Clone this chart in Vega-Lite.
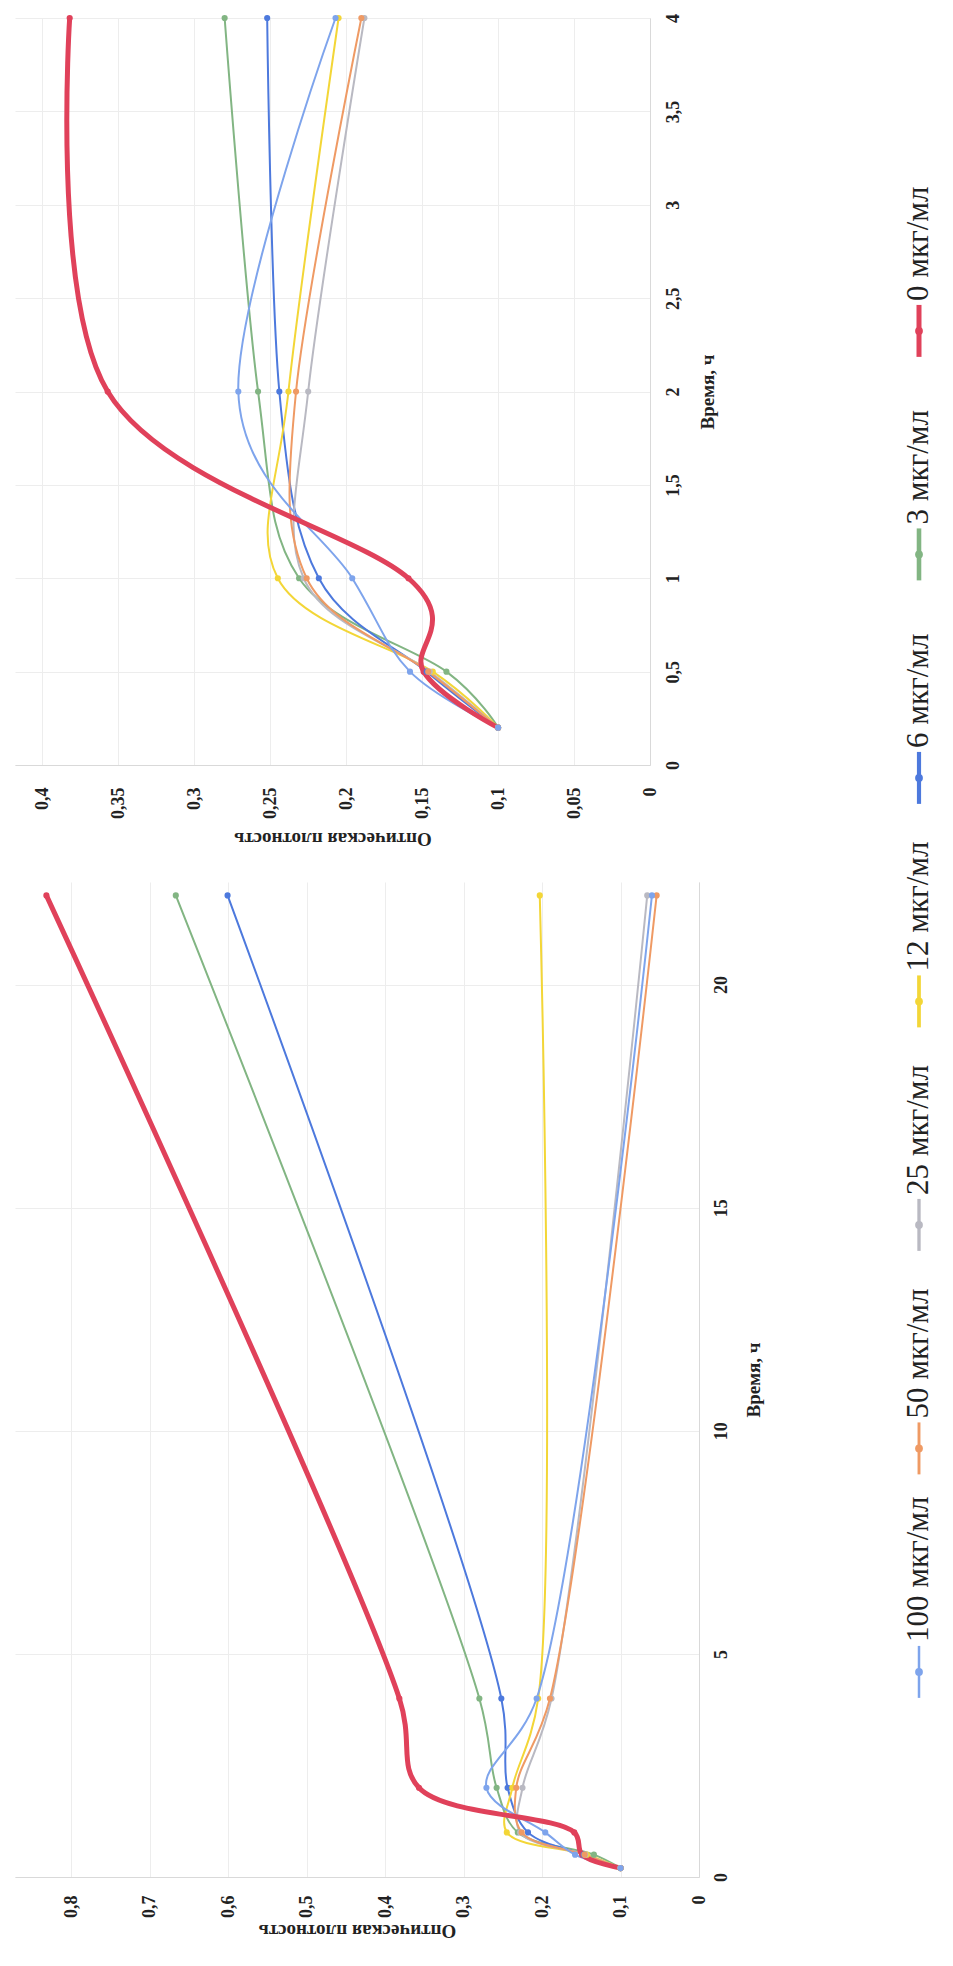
{
  "$schema": "https://vega.github.io/schema/vega-lite/v6.json",
  "padding": {"left": 15, "top": 8, "right": 0, "bottom": 0},
  "background": "white",
  "config": {
    "view": {"stroke": null},
    "font": "Liberation Serif",
    "axis": {
      "ticks": false,
      "grid": true,
      "gridColor": "#ededed",
      "domainColor": "#d9d9d9",
      "labelFont": "Liberation Serif",
      "labelFontWeight": "bold",
      "labelFontSize": 18,
      "labelColor": "#222222",
      "labelOverlap": false,
      "labelFlush": false,
      "titleFont": "Liberation Serif",
      "titleFontWeight": "bold",
      "titleFontSize": 19,
      "titleColor": "#222222"
    }
  },
  "datasets": {
    "od": [
      {"s": "0 мкг/мл", "t": 0.2, "od": 0.1},
      {"s": "0 мкг/мл", "t": 0.5, "od": 0.149},
      {"s": "0 мкг/мл", "t": 1, "od": 0.159},
      {"s": "0 мкг/мл", "t": 2, "od": 0.357},
      {"s": "0 мкг/мл", "t": 4, "od": 0.382},
      {"s": "0 мкг/мл", "t": 22, "od": 0.832},
      {"s": "3 мкг/мл", "t": 0.2, "od": 0.1},
      {"s": "3 мкг/мл", "t": 0.5, "od": 0.134},
      {"s": "3 мкг/мл", "t": 1, "od": 0.231},
      {"s": "3 мкг/мл", "t": 2, "od": 0.258},
      {"s": "3 мкг/мл", "t": 4, "od": 0.28},
      {"s": "3 мкг/мл", "t": 22, "od": 0.667},
      {"s": "6 мкг/мл", "t": 0.2, "od": 0.1},
      {"s": "6 мкг/мл", "t": 0.5, "od": 0.147},
      {"s": "6 мкг/мл", "t": 1, "od": 0.218},
      {"s": "6 мкг/мл", "t": 2, "od": 0.244},
      {"s": "6 мкг/мл", "t": 4, "od": 0.252},
      {"s": "6 мкг/мл", "t": 22, "od": 0.601},
      {"s": "12 мкг/мл", "t": 0.2, "od": 0.1},
      {"s": "12 мкг/мл", "t": 0.5, "od": 0.143},
      {"s": "12 мкг/мл", "t": 1, "od": 0.245},
      {"s": "12 мкг/мл", "t": 2, "od": 0.238},
      {"s": "12 мкг/мл", "t": 4, "od": 0.205},
      {"s": "12 мкг/мл", "t": 22, "od": 0.203},
      {"s": "25 мкг/мл", "t": 0.2, "od": 0.1},
      {"s": "25 мкг/мл", "t": 0.5, "od": 0.145},
      {"s": "25 мкг/мл", "t": 1, "od": 0.228},
      {"s": "25 мкг/мл", "t": 2, "od": 0.225},
      {"s": "25 мкг/мл", "t": 4, "od": 0.188},
      {"s": "25 мкг/мл", "t": 22, "od": 0.066},
      {"s": "50 мкг/мл", "t": 0.2, "od": 0.1},
      {"s": "50 мкг/мл", "t": 0.5, "od": 0.146},
      {"s": "50 мкг/мл", "t": 1, "od": 0.226},
      {"s": "50 мкг/мл", "t": 2, "od": 0.233},
      {"s": "50 мкг/мл", "t": 4, "od": 0.19},
      {"s": "50 мкг/мл", "t": 22, "od": 0.054},
      {"s": "100 мкг/мл", "t": 0.2, "od": 0.1},
      {"s": "100 мкг/мл", "t": 0.5, "od": 0.158},
      {"s": "100 мкг/мл", "t": 1, "od": 0.196},
      {"s": "100 мкг/мл", "t": 2, "od": 0.271},
      {"s": "100 мкг/мл", "t": 4, "od": 0.207},
      {"s": "100 мкг/мл", "t": 22, "od": 0.06}
    ],
    "leg": [
      {"s": "0 мкг/мл"},
      {"s": "3 мкг/мл"},
      {"s": "6 мкг/мл"},
      {"s": "12 мкг/мл"},
      {"s": "25 мкг/мл"},
      {"s": "50 мкг/мл"},
      {"s": "100 мкг/мл"}
    ]
  },
  "spacing": 136,
  "hconcat": [
    {
      "spacing": 34,
      "vconcat": [
        {
          "width": 635,
          "height": 747,
          "data": {"name": "od"},
          "transform": [{"filter": "datum.t <= 4"}],
          "encoding": {
            "x": {
              "field": "od", "type": "quantitative",
              "scale": {"domain": [0, 0.418], "reverse": true, "nice": false},
              "axis": {
                "values": [0, 0.05, 0.1, 0.15, 0.2, 0.25, 0.3, 0.35, 0.4],
                "labelExpr": "replace(format(datum.value, '.2~f'), '.', ',')",
                "labelAngle": 270, "labelAlign": "right", "labelBaseline": "middle",
                "labelPadding": 22,
                "title": "Оптическая плотность", "titleAngle": 180, "titleBaseline": "bottom",
                "titlePadding": 10
              }
            },
            "y": {
              "field": "t", "type": "quantitative",
              "scale": {"domain": [0, 4], "nice": false},
              "axis": {
                "orient": "right",
                "values": [0, 0.5, 1, 1.5, 2, 2.5, 3, 3.5, 4],
                "labelExpr": "replace(format(datum.value, '.1~f'), '.', ',')",
                "labelAngle": 270, "labelAlign": "center", "labelBaseline": "top",
                "labelPadding": 14,
                "title": "Время, ч", "titleAngle": 270, "titleBaseline": "top",
                "titlePadding": 16
              }
            },
            "color": {
              "field": "s", "type": "nominal",
              "scale": {
                "domain": ["0 мкг/мл", "3 мкг/мл", "6 мкг/мл", "12 мкг/мл", "25 мкг/мл", "50 мкг/мл", "100 мкг/мл"],
                "range": ["#e0415a", "#82b583", "#4d79dd", "#f3d637", "#b9b9c2", "#ef9a64", "#7ea4ec"]
              },
              "legend": null
            }
          },
          "layer": [
            {
              "transform": [{"filter": "datum.s != '0 мкг/мл'"}],
              "mark": {"type": "line", "interpolate": "cardinal", "tension": 0, "strokeWidth": 2},
              "encoding": {"order": {"field": "t", "type": "quantitative"}}
            },
            {
              "transform": [{"filter": "datum.s == '0 мкг/мл'"}],
              "mark": {"type": "line", "interpolate": "cardinal", "tension": 0, "strokeWidth": 5},
              "encoding": {"order": {"field": "t", "type": "quantitative"}}
            },
            {
              "mark": {"type": "circle", "size": 38, "opacity": 1}
            }
          ]
        },
        {
          "width": 684,
          "height": 995,
          "data": {"name": "od"},
          "encoding": {
            "x": {
              "field": "od", "type": "quantitative",
              "scale": {"domain": [0, 0.872], "reverse": true, "nice": false},
              "axis": {
                "values": [0, 0.1, 0.2, 0.3, 0.4, 0.5, 0.6, 0.7, 0.8],
                "labelExpr": "replace(format(datum.value, '.1~f'), '.', ',')",
                "labelAngle": 270, "labelAlign": "right", "labelBaseline": "middle",
                "labelPadding": 18,
                "title": "Оптическая плотность", "titleAngle": 180, "titleBaseline": "bottom",
                "titlePadding": 3
              }
            },
            "y": {
              "field": "t", "type": "quantitative",
              "scale": {"domain": [0, 22.3], "nice": false},
              "axis": {
                "orient": "right",
                "values": [0, 5, 10, 15, 20],
                "labelAngle": 270, "labelAlign": "center", "labelBaseline": "top",
                "labelPadding": 13,
                "title": "Время, ч", "titleAngle": 270, "titleBaseline": "top",
                "titlePadding": 14
              }
            },
            "color": {
              "field": "s", "type": "nominal",
              "scale": {
                "domain": ["0 мкг/мл", "3 мкг/мл", "6 мкг/мл", "12 мкг/мл", "25 мкг/мл", "50 мкг/мл", "100 мкг/мл"],
                "range": ["#e0415a", "#82b583", "#4d79dd", "#f3d637", "#b9b9c2", "#ef9a64", "#7ea4ec"]
              },
              "legend": null
            }
          },
          "layer": [
            {
              "transform": [{"filter": "datum.s != '0 мкг/мл'"}],
              "mark": {"type": "line", "interpolate": "catmull-rom", "strokeWidth": 2},
              "encoding": {"order": {"field": "t", "type": "quantitative"}}
            },
            {
              "transform": [{"filter": "datum.s == '0 мкг/мл'"}],
              "mark": {"type": "line", "interpolate": "catmull-rom", "strokeWidth": 5},
              "encoding": {"order": {"field": "t", "type": "quantitative"}}
            },
            {
              "mark": {"type": "circle", "size": 38, "opacity": 1}
            }
          ]
        }
      ]
    },
    {
      "width": 40,
      "height": 1788,
      "data": {"name": "leg"},
      "encoding": {
        "y": {
          "field": "s", "type": "nominal",
          "scale": {
            "type": "point",
            "domain": ["0 мкг/мл", "3 мкг/мл", "6 мкг/мл", "12 мкг/мл", "25 мкг/мл", "50 мкг/мл", "100 мкг/мл"],
            "padding": 1, "align": 0.7
          },
          "axis": null
        },
        "color": {
          "field": "s", "type": "nominal",
          "scale": {
            "domain": ["0 мкг/мл", "3 мкг/мл", "6 мкг/мл", "12 мкг/мл", "25 мкг/мл", "50 мкг/мл", "100 мкг/мл"],
            "range": ["#e0415a", "#82b583", "#4d79dd", "#f3d637", "#b9b9c2", "#ef9a64", "#7ea4ec"]
          },
          "legend": null
        }
      },
      "layer": [
        {
          "mark": {"type": "point", "shape": "stroke", "angle": 90, "size": 2700, "filled": false, "opacity": 1},
          "encoding": {
            "strokeWidth": {
              "field": "s", "type": "nominal",
              "scale": {
                "domain": ["0 мкг/мл", "3 мкг/мл", "6 мкг/мл", "12 мкг/мл", "25 мкг/мл", "50 мкг/мл", "100 мкг/мл"],
                "range": [5, 2.5, 2.5, 2.5, 2.5, 2.5, 2.5]
              },
              "legend": null
            }
          }
        },
        {
          "mark": {"type": "circle", "size": 60, "opacity": 1}
        },
        {
          "mark": {"type": "text", "angle": 270, "align": "left", "baseline": "middle", "dx": 30, "fontSize": 31, "font": "Liberation Serif", "color": "#222222"},
          "encoding": {"text": {"field": "s"}, "color": {"value": "#222222"}}
        }
      ]
    }
  ]
}
